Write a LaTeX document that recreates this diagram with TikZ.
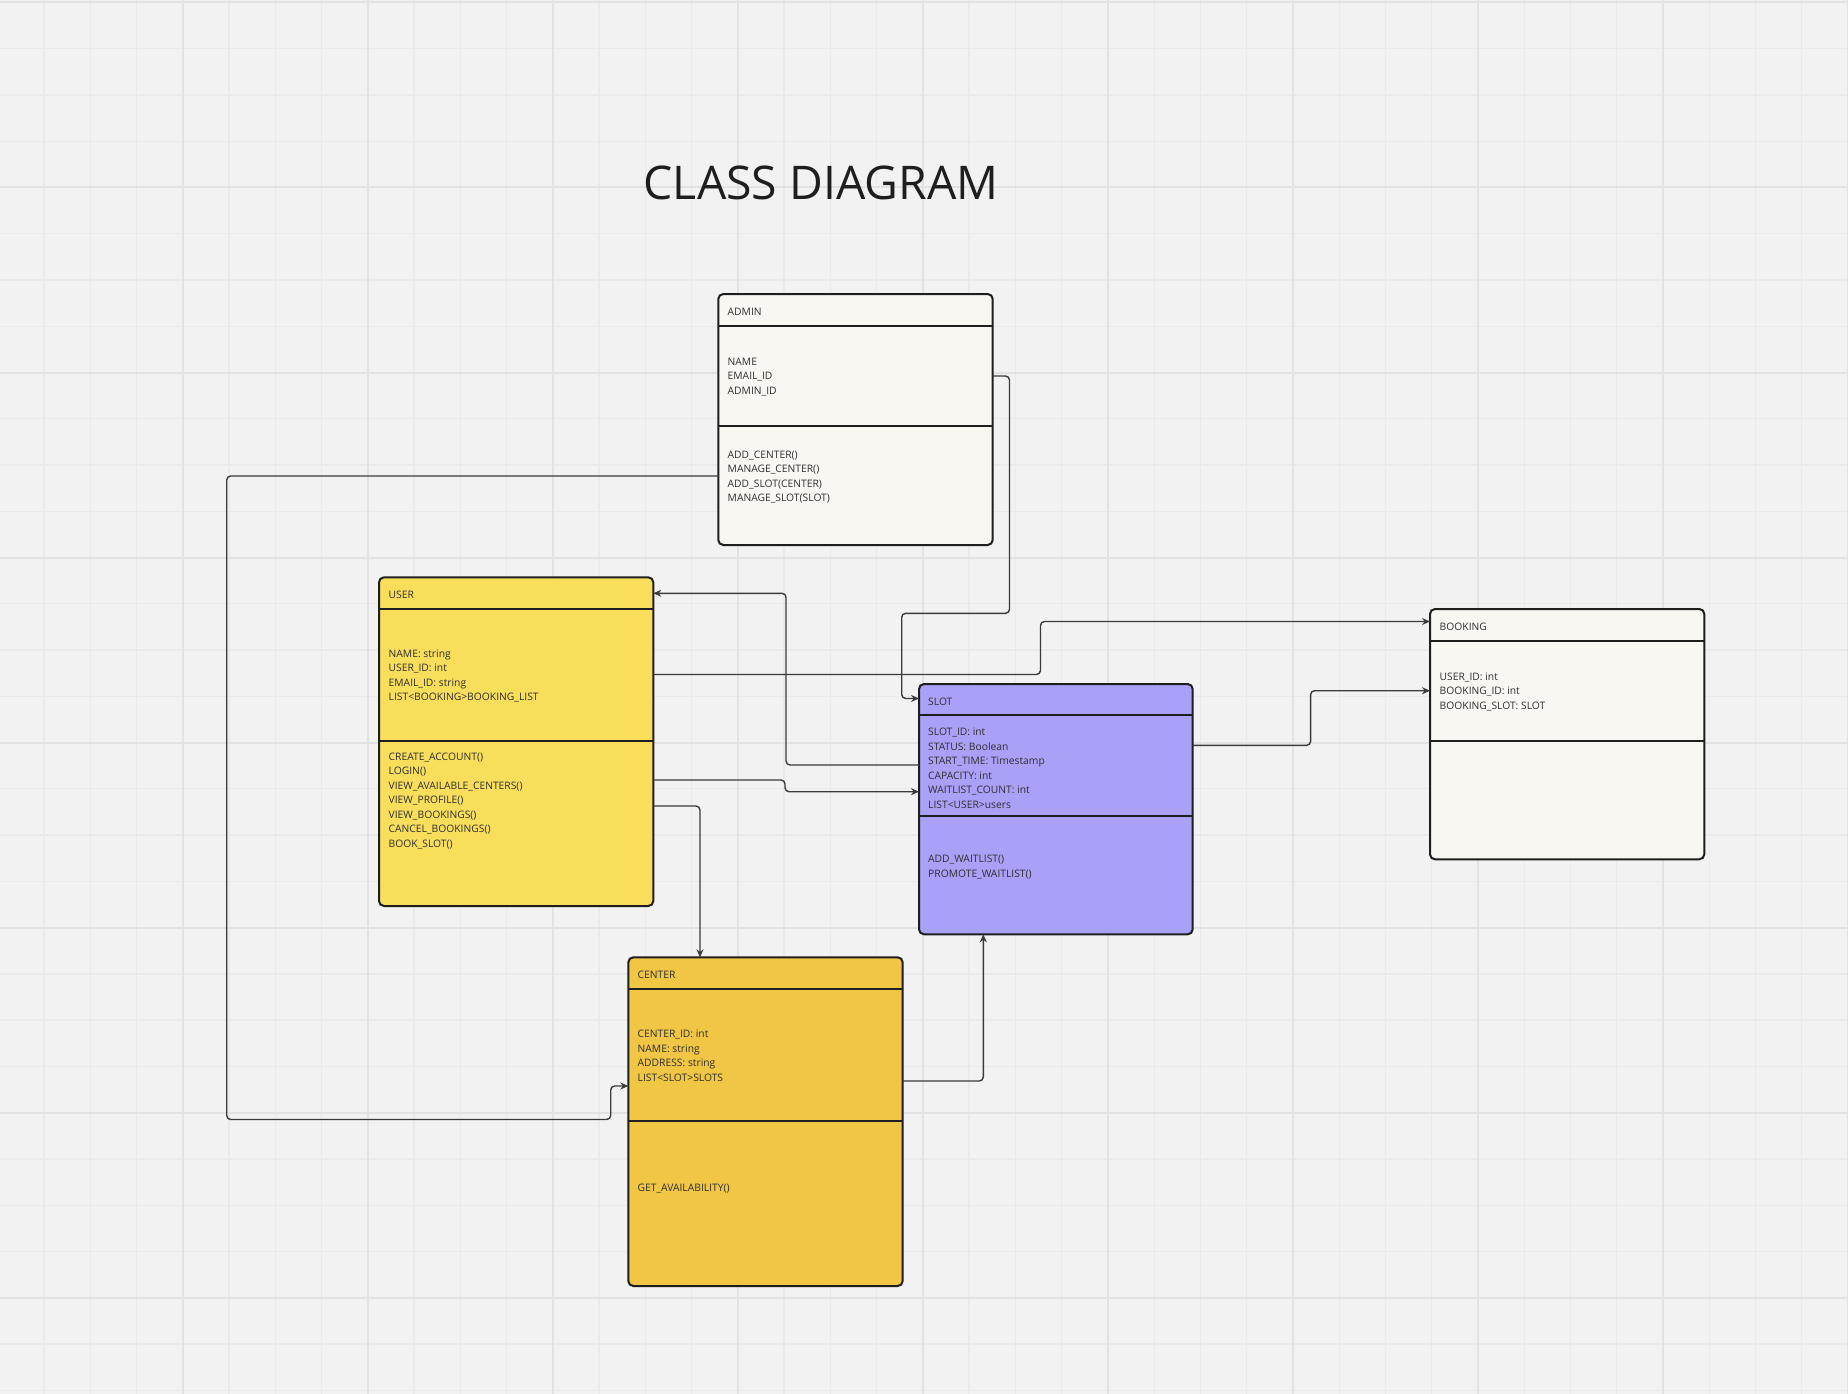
\documentclass[tikz,border=0pt]{standalone}
\usepackage{fontspec}
\setmainfont{Open Sans}
\usetikzlibrary{arrows.meta}
\definecolor{bg}{HTML}{F2F2F2}
\definecolor{minorgrid}{HTML}{EAEAEA}
\definecolor{majorgrid}{HTML}{E2E2E2}
\definecolor{cream}{HTML}{F9F7F1}
\definecolor{useryellow}{HTML}{F8DE5B}
\definecolor{centeryellow}{HTML}{F1C644}
\definecolor{slotpurple}{HTML}{A9A1F7}
\definecolor{boxline}{HTML}{1E1E1E}
\definecolor{connc}{HTML}{3A3A3A}
\definecolor{txtc}{HTML}{2E2E2E}
\definecolor{titlec}{HTML}{1E1E1E}
\begin{document}
\begin{tikzpicture}[x=1pt,y=-1pt,
  cls/.style={draw=boxline, line width=2pt, rounded corners=5pt, anchor=north west, inner sep=0pt, outer sep=0pt},
  divider/.style={draw=boxline, line width=2pt},
  txt/.style={anchor=west, inner sep=0pt, text=txtc, align=left, font=\fontsize{10.3}{14.5}\selectfont},
  conn/.style={draw=connc, line width=1.4pt, rounded corners=4pt, -{Stealth[length=8pt,width=7pt]}},
  mgrid/.style={draw=minorgrid, line width=1.3pt},
  Mgrid/.style={draw=majorgrid, line width=2pt}]
\fill[bg] (0,0) rectangle (1848,1394);
\useasboundingbox (0,0) rectangle (1848,1394);
% grid
\foreach \i in {0,...,39} { \draw[mgrid] ({43.9+\i*46.26},0) -- ({43.9+\i*46.26},1394); }
\foreach \i in {0,...,30} { \draw[mgrid] (0,{2.4+\i*46.26}) -- (1848,{2.4+\i*46.26}); }
\foreach \k in {0,...,9} { \draw[Mgrid] ({182.7+\k*185.05},0) -- ({182.7+\k*185.05},1394); }
\foreach \k in {0,...,7} { \draw[Mgrid] (0,{2.4+\k*185.05}) -- (1848,{2.4+\k*185.05}); }

% title
\node[font=\fontsize{46.4}{50}\selectfont, anchor=base west, inner sep=0pt, text=titlec] (title) at (643.5,200) {CLASS DIAGRAM};

% ADMIN
\node[cls, fill=cream, minimum width=274.4pt, minimum height=251pt] (admin) at (718.3,294) {};
\draw[divider] (admin.west |- 0,325.7) -- (admin.east |- 0,325.7);
\draw[divider] (admin.west |- 0,425.7) -- (admin.east |- 0,425.7);
\node[txt] (adminT) at (727.5,312) {ADMIN};
\node[txt] (adminA) at (727.5,376.7) {NAME\\EMAIL\_ID\\ADMIN\_ID};
\node[txt] (adminM) at (727.5,477.3) {ADD\_CENTER()\\MANAGE\_CENTER()\\ADD\_SLOT(CENTER)\\MANAGE\_SLOT(SLOT)};

% USER
\node[cls, fill=useryellow, minimum width=274.3pt, minimum height=328.7pt] (user) at (379,577.3) {};
\draw[divider] (user.west |- 0,609) -- (user.east |- 0,609);
\draw[divider] (user.west |- 0,741) -- (user.east |- 0,741);
\node[txt] (userT) at (388.5,595.3) {USER};
\node[txt] (userA) at (388.5,676) {NAME: string\\USER\_ID: int\\EMAIL\_ID: string\\LIST<BOOKING>BOOKING\_LIST};
\node[txt] (userM) at (388.5,801) {CREATE\_ACCOUNT()\\LOGIN()\\VIEW\_AVAILABLE\_CENTERS()\\VIEW\_PROFILE()\\VIEW\_BOOKINGS()\\CANCEL\_BOOKINGS()\\BOOK\_SLOT()};

% SLOT
\node[cls, fill=slotpurple, minimum width=273.7pt, minimum height=250.3pt] (slot) at (919,684) {};
\draw[divider] (slot.west |- 0,715) -- (slot.east |- 0,715);
\draw[divider] (slot.west |- 0,815.7) -- (slot.east |- 0,815.7);
\node[txt] (slotT) at (928,702) {SLOT};
\node[txt] (slotA) at (928,768.5) {SLOT\_ID: int\\STATUS: Boolean\\START\_TIME: Timestamp\\CAPACITY: int\\WAITLIST\_COUNT: int\\LIST<USER>users};
\node[txt] (slotM) at (928,867.3) {ADD\_WAITLIST()\\PROMOTE\_WAITLIST()};

% BOOKING
\node[cls, fill=cream, minimum width=274.3pt, minimum height=250.3pt] (booking) at (1430,609) {};
\draw[divider] (booking.west |- 0,640.7) -- (booking.east |- 0,640.7);
\draw[divider] (booking.west |- 0,740.7) -- (booking.east |- 0,740.7);
\node[txt] (bookingT) at (1439.5,627) {BOOKING};
\node[txt] (bookingA) at (1439.5,691.7) {USER\_ID: int\\BOOKING\_ID: int\\BOOKING\_SLOT: SLOT};

% CENTER
\node[cls, fill=centeryellow, minimum width=274.4pt, minimum height=328.7pt] (center) at (628.3,957.3) {};
\draw[divider] (center.west |- 0,989.3) -- (center.east |- 0,989.3);
\draw[divider] (center.west |- 0,1121) -- (center.east |- 0,1121);
\node[txt] (centerT) at (637.5,975.3) {CENTER};
\node[txt] (centerA) at (637.5,1056) {CENTER\_ID: int\\NAME: string\\ADDRESS: string\\LIST<SLOT>SLOTS};
\node[txt] (centerM) at (637.5,1188.3) {GET\_AVAILABILITY()};

% connectors
\draw[conn] (admin.east |- 0,376) -- (1009.5,376) -- (1009.5,613.3) -- (901.7,613.3) -- (901.7,698.5) -- (slot.west |- 0,698.5);
\draw[conn] (admin.west |- 0,476) -- (226.7,476) -- (226.7,1119.5) -- (610.7,1119.5) -- (610.7,1086) -- (center.west |- 0,1086);
\draw[conn] (slot.west |- 0,765) -- (786,765) -- (786,593.3) -- (user.east |- 0,593.3);
\draw[conn] (user.east |- 0,674.5) -- (1040.5,674.5) -- (1040.5,621.5) -- (booking.west |- 0,621.5);
\draw[conn] (user.east |- 0,780) -- (785,780) -- (785,791.7) -- (slot.west |- 0,791.7);
\draw[conn] (user.east |- 0,806) -- (700,806) -- (center.north -| 700,0);
\draw[conn] (slot.east |- 0,745.3) -- (1310.6,745.3) -- (1310.6,690.7) -- (booking.west |- 0,690.7);
\draw[conn] (center.east |- 0,1081) -- (983.3,1081) -- (slot.south -| 983.3,0);
\end{tikzpicture}
\end{document}
